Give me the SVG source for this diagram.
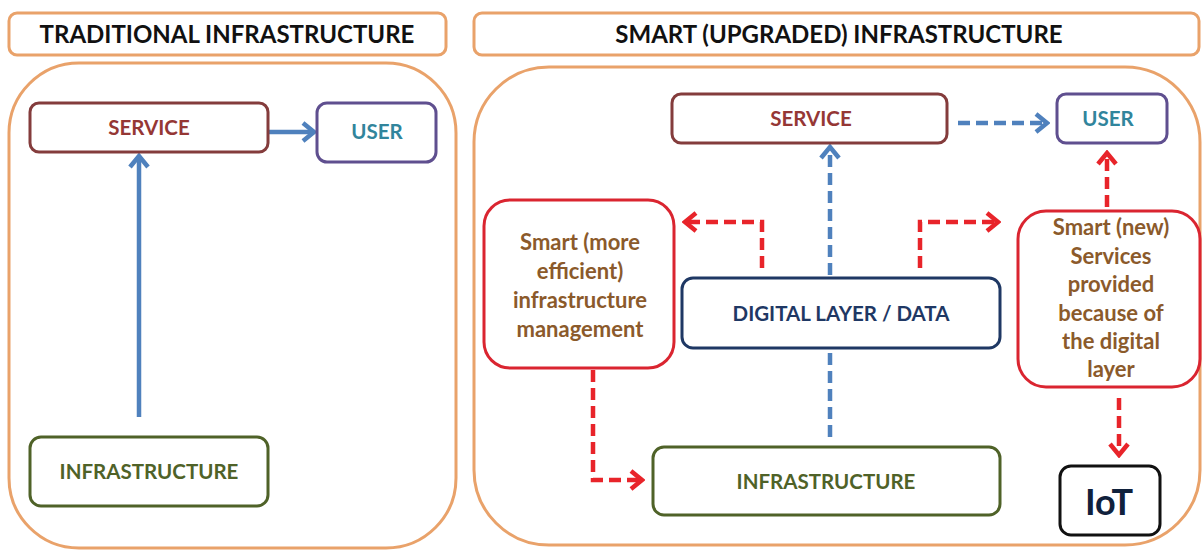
<svg xmlns="http://www.w3.org/2000/svg" width="1203" height="551" viewBox="0 0 1203 551">
  <style>
    text { font-family: "Lato", "Liberation Sans", sans-serif; font-weight: 700; text-anchor: middle; }
    .frame { fill: #ffffff; stroke: #E9A26A; stroke-width: 3; }
    .title { font-size: 24px; fill: #111111; }
    .node { fill: #ffffff; stroke-width: 3; }
    .service { stroke: #843C3C; }
    .service-t { fill: #953735; font-size: 20.5px; }
    .user { stroke: #5F4F8F; }
    .user-t { fill: #31859C; font-size: 20.5px; }
    .infra { stroke: #4F6228; }
    .infra-t { fill: #4F6228; font-size: 20.5px; }
    .digital { stroke: #1F3864; }
    .digital-t { fill: #1F3864; font-size: 20.5px; }
    .smart { stroke: #DA2530; }
    .smart-t { fill: #8B5A2B; font-size: 22px; }
    .iot { stroke: #111111; }
    .iot-t { fill: #10213C; font-size: 36px; }
    .blue { fill: none; stroke: #4F81BD; stroke-width: 4.5; }
    .red { fill: none; stroke: #E8242A; stroke-width: 4.5; }
    .dash-b { stroke-dasharray: 12 6; }
    .dash-r { stroke-dasharray: 12 6; }
  </style>
  <defs>
    <marker id="head-blue" viewBox="0 0 16 22" refX="13" refY="11" markerWidth="16" markerHeight="22" markerUnits="userSpaceOnUse" orient="auto">
      <path d="M2,2 L13,11 L2,20" fill="none" stroke="#4F81BD" stroke-width="4.5"/>
    </marker>
    <marker id="head-red" viewBox="0 0 16 22" refX="13" refY="11" markerWidth="16" markerHeight="22" markerUnits="userSpaceOnUse" orient="auto">
      <path d="M2,2 L13,11 L2,20" fill="none" stroke="#E8242A" stroke-width="4.5"/>
    </marker>
  </defs>

  <rect width="1203" height="551" fill="#ffffff"/>

  <!-- section headers and frames -->
  <g id="traditional-panel">
    <rect class="frame" x="9" y="13" width="437" height="42" rx="8"/>
    <text class="title" x="227" y="43">TRADITIONAL INFRASTRUCTURE</text>
    <rect class="frame" x="9" y="63" width="447" height="485" rx="70"/>
  </g>
  <g id="smart-panel">
    <rect class="frame" x="474" y="13" width="725" height="42" rx="8"/>
    <text class="title" x="839" y="43">SMART (UPGRADED) INFRASTRUCTURE</text>
    <rect class="frame" x="474" y="67" width="726" height="478" rx="75"/>
  </g>

  <!-- connectors -->
  <g id="connectors">
    <path class="blue" d="M268,132 H314" marker-end="url(#head-blue)"/>
    <path class="blue" d="M139,417 V156" marker-end="url(#head-blue)"/>
    <path class="blue dash-b" d="M958,123 H1047" marker-end="url(#head-blue)"/>
    <path class="blue dash-b" d="M830,437 V147" marker-end="url(#head-blue)"/>
    <path class="red dash-r" d="M762,268 V222 H685" marker-end="url(#head-red)"/>
    <path class="red dash-r" d="M920,268 V222 H998" marker-end="url(#head-red)"/>
    <path class="red dash-r" d="M1107,207 V153" marker-end="url(#head-red)"/>
    <path class="red dash-r" d="M1119,398 V455" marker-end="url(#head-red)"/>
    <path class="red dash-r" d="M593,370 V480 H642" marker-end="url(#head-red)"/>
  </g>

  <!-- traditional nodes -->
  <g id="t-service">
    <rect class="node service" x="30" y="103" width="238" height="49" rx="9"/>
    <text class="service-t" x="149" y="135">SERVICE</text>
  </g>
  <g id="t-user">
    <rect class="node user" x="317" y="103" width="119" height="59" rx="10"/>
    <text class="user-t" x="377" y="139">USER</text>
  </g>
  <g id="t-infrastructure">
    <rect class="node infra" x="30" y="437" width="238" height="69" rx="11"/>
    <text class="infra-t" x="149" y="479">INFRASTRUCTURE</text>
  </g>

  <!-- smart nodes -->
  <g id="s-service">
    <rect class="node service" x="672" y="94" width="275" height="49" rx="9"/>
    <text class="service-t" x="811" y="126">SERVICE</text>
  </g>
  <g id="s-user">
    <rect class="node user" x="1057" y="94" width="110" height="49" rx="9"/>
    <text class="user-t" x="1108" y="126">USER</text>
  </g>
  <g id="s-digital">
    <rect class="node digital" x="682" y="278" width="318" height="70" rx="11"/>
    <text class="digital-t" x="841" y="321">DIGITAL LAYER / DATA</text>
  </g>
  <g id="s-management">
    <rect class="node smart" x="484" y="200" width="190" height="168" rx="26"/>
    <text class="smart-t" x="580" y="250">Smart (more</text>
    <text class="smart-t" x="580" y="279">efficient)</text>
    <text class="smart-t" x="580" y="308">infrastructure</text>
    <text class="smart-t" x="580" y="337">management</text>
  </g>
  <g id="s-new-services">
    <rect class="node smart" x="1018" y="211" width="182" height="176" rx="28"/>
    <text class="smart-t" x="1111" y="235">Smart (new)</text>
    <text class="smart-t" x="1111" y="263.5">Services</text>
    <text class="smart-t" x="1111" y="292">provided</text>
    <text class="smart-t" x="1111" y="320.5">because of</text>
    <text class="smart-t" x="1111" y="349">the digital</text>
    <text class="smart-t" x="1111" y="377">layer</text>
  </g>
  <g id="s-infrastructure">
    <rect class="node infra" x="653" y="447" width="347" height="68" rx="11"/>
    <text class="infra-t" x="826" y="489">INFRASTRUCTURE</text>
  </g>
  <g id="s-iot">
    <rect class="node iot" x="1060" y="466" width="100" height="69" rx="11"/>
    <text class="iot-t" x="1109" y="515">IoT</text>
  </g>
</svg>
